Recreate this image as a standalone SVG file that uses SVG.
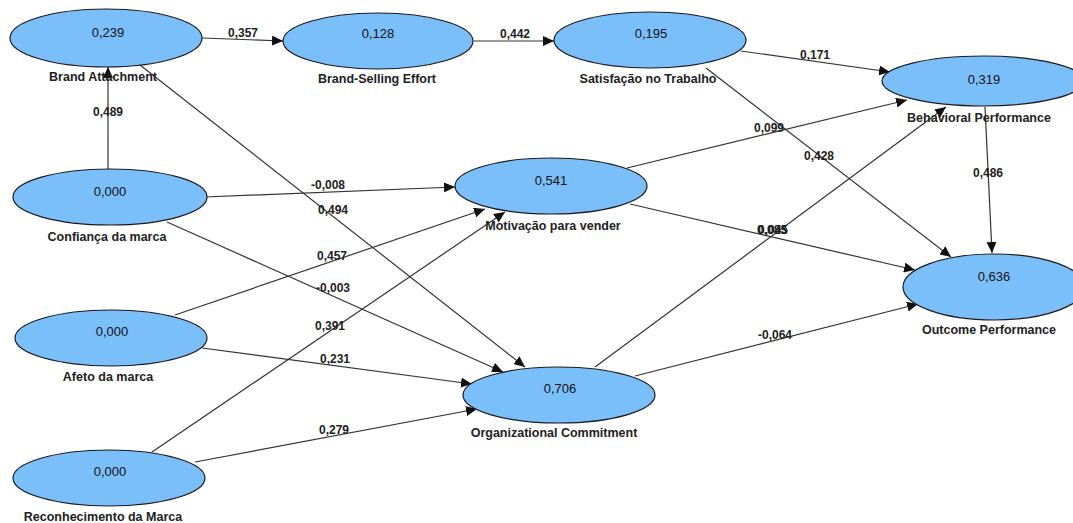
<svg xmlns="http://www.w3.org/2000/svg" width="1073" height="523" viewBox="0 0 1073 523">
<style>
.node ellipse{fill:#7abffa;stroke:#1a1a1a;stroke-width:1.2}
.val{font-family:"Liberation Sans",Arial,sans-serif;font-size:13px;fill:#111;text-anchor:middle}
.lbl{font-family:"Liberation Sans",Arial,sans-serif;font-size:12.5px;font-weight:bold;fill:#222;text-anchor:middle}
.edges line{stroke:#333;stroke-width:1.2;marker-end:url(#arr)}
.elbl{font-family:"Liberation Sans",Arial,sans-serif;font-size:12px;font-weight:bold;fill:#222;text-anchor:middle}
</style>
<defs>
<marker id="arr" markerUnits="userSpaceOnUse" markerWidth="12" markerHeight="10" refX="11" refY="5" orient="auto">
<path d="M0,0 L11,5 L0,10 Z" fill="#111"/>
</marker>
</defs>
<rect width="1073" height="523" fill="#fff"/>
<g class="edges">
<line x1="202" y1="38" x2="283" y2="41"/>
<line x1="474" y1="41" x2="554" y2="41"/>
<line x1="741" y1="51" x2="890" y2="72"/>
<line x1="706" y1="68" x2="951" y2="257"/>
<line x1="108" y1="169" x2="108" y2="67"/>
<line x1="205" y1="197" x2="455" y2="187"/>
<line x1="140" y1="65" x2="525" y2="367"/>
<line x1="167" y1="222" x2="503" y2="372"/>
<line x1="175" y1="315" x2="485" y2="209"/>
<line x1="202" y1="348" x2="472" y2="384"/>
<line x1="152" y1="452" x2="505" y2="212"/>
<line x1="195" y1="462" x2="477" y2="409"/>
<line x1="627" y1="168" x2="907" y2="100"/>
<line x1="630" y1="204" x2="915" y2="270"/>
<line x1="595" y1="367" x2="946" y2="107"/>
<line x1="635" y1="376" x2="918" y2="304"/>
<line x1="985" y1="107" x2="992" y2="253"/>
<text class="elbl" x="243" y="37">0,357</text>
<text class="elbl" x="515" y="38">0,442</text>
<text class="elbl" x="815" y="59">0,171</text>
<text class="elbl" x="819" y="160">0,428</text>
<text class="elbl" x="108" y="116">0,489</text>
<text class="elbl" x="328" y="189">-0,008</text>
<text class="elbl" x="333" y="214">0,494</text>
<text class="elbl" x="332" y="260">0,457</text>
<text class="elbl" x="333" y="292">-0,003</text>
<text class="elbl" x="330" y="330">0,391</text>
<text class="elbl" x="335" y="363">0,231</text>
<text class="elbl" x="334" y="434">0,279</text>
<text class="elbl" x="769" y="132">0,099</text>
<text class="elbl" x="772" y="234">0,083</text>
<text class="elbl" x="773" y="234">0,045</text>
<text class="elbl" x="775" y="339">-0,064</text>
<text class="elbl" x="988" y="177">0,486</text>
</g>
<g id="brand-attachment" class="node">
<ellipse cx="106" cy="38" rx="96" ry="29"/>
<text class="val" x="108" y="37">0,239</text>
<text class="lbl" x="103" y="81">Brand Attachment</text>
</g>
<g id="brand-selling-effort" class="node">
<ellipse cx="378" cy="41" rx="95" ry="28"/>
<text class="val" x="378" y="38">0,128</text>
<text class="lbl" x="377" y="83">Brand-Selling Effort</text>
</g>
<g id="satisfacao" class="node">
<ellipse cx="650" cy="40" rx="96" ry="28"/>
<text class="val" x="651" y="38">0,195</text>
<text class="lbl" x="648" y="83">Satisfação no Trabalho</text>
</g>
<g id="behavioral-performance" class="node">
<ellipse cx="983" cy="81" rx="101" ry="25"/>
<text class="val" x="984" y="84">0,319</text>
<text class="lbl" x="979" y="122">Behavioral Performance</text>
</g>
<g id="confianca" class="node">
<ellipse cx="110" cy="197" rx="97" ry="28"/>
<text class="val" x="110" y="196">0,000</text>
<text class="lbl" x="107" y="241">Confiança da marca</text>
</g>
<g id="motivacao" class="node">
<ellipse cx="551" cy="186" rx="96" ry="28"/>
<text class="val" x="551" y="185">0,541</text>
<text class="lbl" x="553" y="230">Motivação para vender</text>
</g>
<g id="afeto" class="node">
<ellipse cx="111" cy="338" rx="96" ry="28"/>
<text class="val" x="112" y="336">0,000</text>
<text class="lbl" x="108" y="381">Afeto da marca</text>
</g>
<g id="organizational-commitment" class="node">
<ellipse cx="559" cy="395" rx="96" ry="28"/>
<text class="val" x="560" y="393">0,706</text>
<text class="lbl" x="554" y="437">Organizational Commitment</text>
</g>
<g id="reconhecimento" class="node">
<ellipse cx="109" cy="478" rx="96" ry="28"/>
<text class="val" x="110" y="476">0,000</text>
<text class="lbl" x="103" y="521">Reconhecimento da Marca</text>
</g>
<g id="outcome-performance" class="node">
<ellipse cx="994" cy="287" rx="91" ry="33"/>
<text class="val" x="994" y="281">0,636</text>
<text class="lbl" x="989" y="334">Outcome Performance</text>
</g>
</svg>
